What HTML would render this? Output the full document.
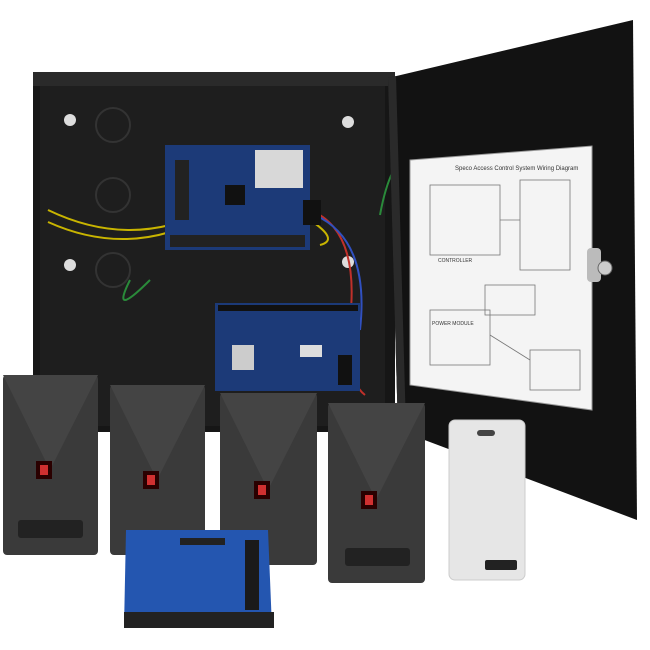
<!DOCTYPE html>
<html><head><style>
html,body{margin:0;padding:0;background:#fff;width:650px;height:650px;overflow:hidden}
svg text{font-family:"Liberation Sans",sans-serif}
</style></head><body>
<svg width="650" height="650" viewBox="0 0 650 650" xmlns="http://www.w3.org/2000/svg">
<rect width="650" height="650" fill="#fff"/>
<!-- cabinet body -->
<rect x="33" y="72" width="362" height="360" fill="#161616"/>
<rect x="40" y="86" width="345" height="340" fill="#1e1e1e"/>
<rect x="33" y="72" width="362" height="14" fill="#2a2a2a"/>
<!-- knockouts -->
<circle cx="113" cy="125" r="17" fill="none" stroke="#333" stroke-width="2"/>
<circle cx="113" cy="195" r="17" fill="none" stroke="#333" stroke-width="2"/>
<circle cx="113" cy="270" r="17" fill="none" stroke="#333" stroke-width="2"/>
<circle cx="70" cy="120" r="6" fill="#ddd"/><circle cx="348" cy="122" r="6" fill="#ddd"/>
<circle cx="70" cy="265" r="6" fill="#ddd"/><circle cx="348" cy="262" r="6" fill="#ddd"/>
<!-- wires -->
<path d="M48 210 Q110 240 170 225" stroke="#c8b400" stroke-width="2" fill="none"/>
<path d="M48 222 Q110 250 170 232" stroke="#c8b400" stroke-width="2" fill="none"/>
<path d="M150 280 Q110 320 130 280" stroke="#2a8a3a" stroke-width="2" fill="none"/>
<path d="M310 210 Q360 230 350 320 Q345 380 365 395" stroke="#c0302a" stroke-width="2" fill="none"/>
<path d="M315 215 Q370 240 360 330" stroke="#3050c0" stroke-width="2" fill="none"/>
<path d="M310 220 Q340 240 320 245" stroke="#c8b400" stroke-width="2" fill="none"/>
<path d="M380 215 Q390 160 412 150" stroke="#2a8a3a" stroke-width="2" fill="none"/>
<!-- controller board -->
<rect x="165" y="145" width="145" height="105" fill="#1c3a78"/>
<rect x="255" y="150" width="48" height="38" fill="#d8d8d8"/>
<rect x="175" y="160" width="14" height="60" fill="#222"/>
<rect x="225" y="185" width="20" height="20" fill="#111"/>
<rect x="170" y="235" width="135" height="12" fill="#222"/>
<rect x="303" y="200" width="18" height="25" fill="#111"/>
<!-- power module -->
<rect x="215" y="303" width="145" height="88" fill="#1c3a78"/>
<rect x="218" y="305" width="140" height="6" fill="#111"/>
<rect x="300" y="345" width="22" height="12" fill="#ddd"/>
<rect x="232" y="345" width="22" height="25" fill="#ccc"/>
<rect x="338" y="355" width="14" height="30" fill="#111"/>
<!-- door -->
<polygon points="388,78 633,20 637,520 398,430" fill="#121212"/>
<polygon points="388,78 396,76 406,428 398,430" fill="#2a2a2a"/>
<!-- diagram sheet -->
<polygon points="410,160 592,146 592,410 410,385" fill="#f4f4f4" stroke="#999"/>
<g stroke="#777" fill="none" stroke-width="0.8">
<rect x="430" y="185" width="70" height="70"/>
<rect x="520" y="180" width="50" height="90"/>
<rect x="430" y="310" width="60" height="55"/>
<rect x="485" y="285" width="50" height="30"/>
<rect x="530" y="350" width="50" height="40"/>
<line x1="500" y1="220" x2="520" y2="220"/><line x1="490" y1="335" x2="530" y2="360"/>
</g>
<text x="455" y="170" font-size="6" fill="#333">Speco Access Control System Wiring Diagram</text>
<text x="438" y="262" font-size="5" fill="#333">CONTROLLER</text>
<text x="432" y="325" font-size="5" fill="#333">POWER MODULE</text>
<!-- lock -->
<rect x="587" y="248" width="14" height="34" rx="4" fill="#bbb"/>
<circle cx="605" cy="268" r="7" fill="#ccc" stroke="#666"/>
<!-- readers -->
<g>
<rect x="3" y="375" width="95" height="180" rx="4" fill="#3a3a3a"/>
<polygon points="3,375 98,375 50,470" fill="#444"/>
<rect x="36" y="461" width="16" height="18" fill="#2a0000"/><rect x="40" y="465" width="8" height="10" fill="#d03030"/>
<rect x="18" y="520" width="65" height="18" rx="3" fill="#222"/>
<rect x="110" y="385" width="95" height="170" rx="4" fill="#3a3a3a"/>
<polygon points="110,385 205,385 157,480" fill="#444"/>
<rect x="143" y="471" width="16" height="18" fill="#2a0000"/><rect x="147" y="475" width="8" height="10" fill="#d03030"/>
<rect x="220" y="393" width="97" height="172" rx="4" fill="#3a3a3a"/>
<polygon points="220,393 317,393 268,490" fill="#444"/>
<rect x="254" y="481" width="16" height="18" fill="#2a0000"/><rect x="258" y="485" width="8" height="10" fill="#d03030"/>
<rect x="328" y="403" width="97" height="180" rx="4" fill="#3a3a3a"/>
<polygon points="328,403 425,403 376,500" fill="#444"/>
<rect x="361" y="491" width="16" height="18" fill="#2a0000"/><rect x="365" y="495" width="8" height="10" fill="#d03030"/>
<rect x="345" y="548" width="65" height="18" rx="3" fill="#222"/>
</g>
<!-- card -->
<rect x="449" y="420" width="76" height="160" rx="6" fill="#e6e6e6" stroke="#ccc"/>
<rect x="477" y="430" width="18" height="6" rx="3" fill="#444"/>
<rect x="485" y="560" width="32" height="10" rx="2" fill="#222"/>
<!-- expansion board -->
<polygon points="126,530 268,530 272,628 124,628" fill="#2456b0"/>
<rect x="180" y="538" width="45" height="7" fill="#222"/>
<rect x="245" y="540" width="14" height="70" fill="#1a1a1a"/>
<rect x="124" y="612" width="150" height="16" fill="#222"/>
</svg>
</body></html>
